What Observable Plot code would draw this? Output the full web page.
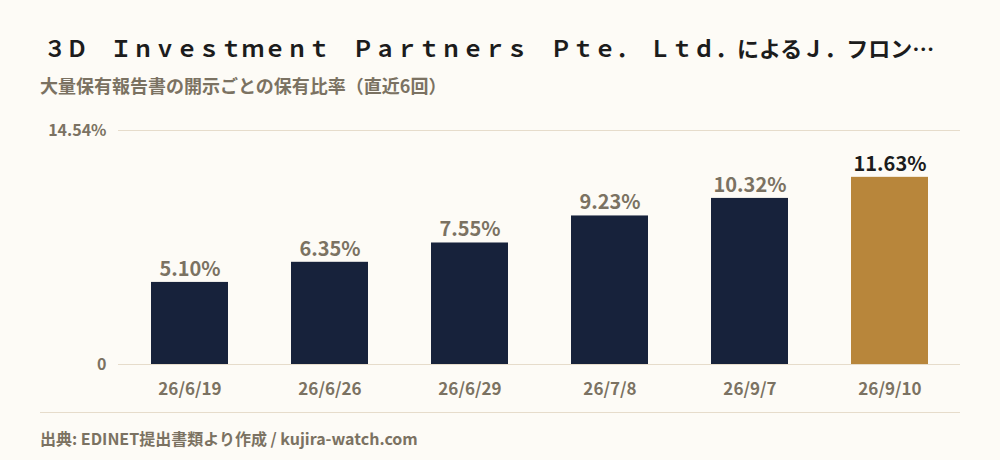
<!DOCTYPE html>
<html>
<head>
<meta charset="utf-8">
<script src="https://cdn.jsdelivr.net/npm/d3@7"></script>
<script src="https://cdn.jsdelivr.net/npm/@observablehq/plot@0.6"></script>
<style>
  html, body { margin: 0; padding: 0; background: #fdfbf6; }
  #wrap { position: relative; width: 1000px; height: 460px; background: #fdfbf6; font-family: "Noto Sans CJK JP", "Noto Sans", sans-serif; overflow: hidden; }
  #title { position: absolute; left: 44px; top: 31px; font-size: 22px; font-weight: 700; color: #1c1c1c; white-space: nowrap; line-height: 32px; }
  #subtitle { position: absolute; left: 40px; top: 72px; font-size: 18px; font-weight: 700; color: #7b7262; white-space: nowrap; line-height: 26px; }
  #chart { position: absolute; left: 0; top: 100px; }
  #sep { position: absolute; left: 40px; top: 412px; width: 920px; height: 1px; background: #e6dccb; }
  #footer { position: absolute; left: 40px; top: 426px; font-size: 16px; font-weight: 700; color: #7b7262; white-space: nowrap; line-height: 24px; }
</style>
</head>
<body>
<div id="wrap">
  <div id="title">３Ｄ　Ｉｎｖｅｓｔｍｅｎｔ　Ｐａｒｔｎｅｒｓ　Ｐｔｅ．　Ｌｔｄ．によるＪ．フロン…</div>
  <div id="subtitle">大量保有報告書の開示ごとの保有比率（直近6回）</div>
  <div id="chart"></div>
  <div id="sep"></div>
  <div id="footer">出典: EDINET提出書類より作成 / kujira-watch.com</div>
</div>
<script>
const dates = ["26/6/19", "26/6/26", "26/6/29", "26/7/8", "26/9/7", "26/9/10"];
const ratios = [5.10, 6.35, 7.55, 9.23, 10.32, 11.63];
const yMax = 14.54;
const yTicks = [0, 14.54];
const latestIndex = 5;

const navy = "#17223b";
const gold = "#b8863b";
const muted = "#7b7262";
const dark = "#1c1c1c";

const rows = dates.map((d, i) => ({date: d, value: ratios[i], latest: i === latestIndex}));

const plot = Plot.plot({
  width: 1000,
  height: 310,
  marginLeft: 118,
  marginRight: 40,
  marginTop: 30,
  marginBottom: 46,
  style: {background: "transparent", fontFamily: "'Noto Sans CJK JP', 'Noto Sans', sans-serif", overflow: "visible"},
  x: {domain: dates, paddingInner: 0.45, paddingOuter: 0.225, label: null},
  y: {domain: [0, yMax], label: null},
  marks: [
    Plot.ruleY(yTicks, {stroke: "#e6dccb", strokeWidth: 1}),
    Plot.barY(rows, {x: "date", y: "value", fill: d => d.latest ? gold : navy}),
    Plot.text(rows, {
      x: "date", y: "value", text: d => d.value.toFixed(2) + "%",
      dy: -13, fontSize: 20, fontWeight: 700,
      fill: d => d.latest ? dark : muted
    }),
    Plot.axisY({
      ticks: yTicks, tickSize: 0, tickPadding: 12,
      tickFormat: d => d === 0 ? "0" : d.toFixed(2) + "%",
      fontSize: 16, fontWeight: 700, fill: muted, label: null
    }),
    Plot.axisX({
      tickSize: 0, tickPadding: 18, fontSize: 17, fontWeight: 700, fill: muted, label: null
    })
  ]
});
document.getElementById("chart").appendChild(plot);
</script>
</body>
</html>
